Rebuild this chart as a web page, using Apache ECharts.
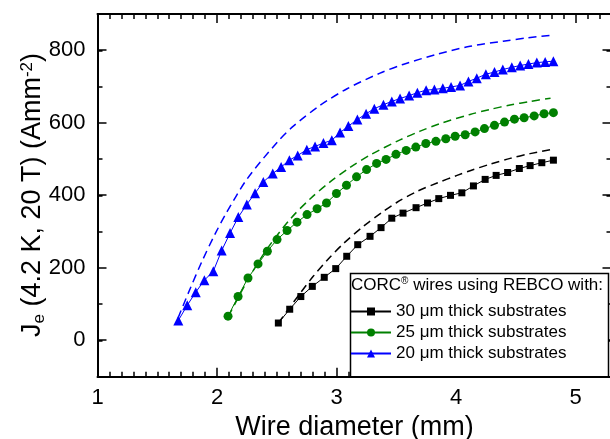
<!DOCTYPE html>
<html><head><meta charset="utf-8">
<script src="https://cdn.jsdelivr.net/npm/echarts@6/dist/echarts.min.js"></script>
<style>html,body{margin:0;padding:0;background:#fff}#c{width:610px;height:439px}</style>
</head><body><div id="c"></div>
<script>
// ---- data ----
const xTicks = [1, 2, 3, 4, 5];
const yTicks = [0, 200, 400, 600, 800];

const blackName = '30 \u03bcm thick substrates';
const greenName = '25 \u03bcm thick substrates';
const blueName  = '20 \u03bcm thick substrates';

const blackX = [2.513,2.608,2.701,2.797,2.897,2.993,3.085,3.177,3.280,3.372,3.462,3.556,3.665,3.761,3.855,3.953,4.048,4.145,4.243,4.335,4.431,4.529,4.619,4.717,4.814];
const blackY = [48,86,121,149,174,198,232,264,287,311,337,351,366,379,391,400,407,426,444,455,463,474,482,490,497];

const greenX = [2.092,2.176,2.259,2.343,2.421,2.502,2.586,2.669,2.753,2.837,2.916,2.999,3.083,3.167,3.251,3.335,3.414,3.497,3.582,3.663,3.747,3.831,3.914,3.992,4.076,4.159,4.237,4.321,4.405,4.488,4.569,4.653,4.736,4.814];
const greenY = [67,121,172,211,246,278,303,326,347,363,379,405,428,451,471,488,499,513,524,533,543,549,556,563,567,575,584,593,602,610,614,619,625,628];

const blueX = [1.676,1.751,1.822,1.894,1.969,2.039,2.109,2.178,2.249,2.318,2.387,2.466,2.536,2.605,2.675,2.751,2.820,2.890,2.960,3.029,3.099,3.174,3.247,3.316,3.392,3.462,3.531,3.607,3.676,3.749,3.818,3.889,3.958,4.033,4.103,4.173,4.249,4.321,4.391,4.466,4.536,4.605,4.675,4.745,4.814];
const blueY = [55,97,133,166,191,248,296,340,375,406,437,460,478,497,510,526,535,544,552,573,591,609,625,639,650,659,667,675,683,690,692,695,699,703,714,723,734,740,747,753,758,762,766,768,770];

// dashed (calculated) curves
const blackFitX = [2.513,2.695,2.803,2.929,3.054,3.222,3.389,3.506,3.674,3.841,4.008,4.117,4.285,4.452,4.619,4.803];
const blackFitY = [48,130,176,224,266,314,355,381,411,434,455,468,486,502,515,527];
const greenFitX = [2.095,2.259,2.418,2.611,2.778,2.946,3.113,3.280,3.531,3.699,3.866,4.117,4.285,4.452,4.619,4.790];
const greenFitY = [66,168,252,334,390,437,477,511,553,577,598,623,637,649,659,668];
const blueFitX = [1.674,1.774,1.874,1.983,2.084,2.251,2.502,2.636,2.862,3.088,3.364,3.556,3.841,4.117,4.393,4.594,4.812];
const blueFitY = [62,142,218,293,355,445,546,590,648,694,737,761,789,811,825,834,842];

const zip = (xs, ys) => xs.map((x, i) => [x, ys[i]]);

const FONT = '"Liberation Sans", Arial, sans-serif';
const BLUE = '#0000ff', GREEN = '#008000', BLACK = '#000000';
const isInt = v => Math.abs(v - Math.round(v)) < 1e-6;

const axisLine = { show: true, onZero: false, lineStyle: { color: '#000', width: 2 } };
const noLine = { show: false, onZero: false };
const minorTick = { show: true, inside: true, length: 5, lineStyle: { color: '#000', width: 1.5 } };
const majorTick = { show: true, inside: true, length: 9, lineStyle: { color: '#000', width: 1.5 } };

function fitSeries(xs, ys, color) {
  return { type: 'line', xAxisIndex: 0, yAxisIndex: 0, data: zip(xs, ys), showSymbol: false, symbol: 'none',
    smooth: 0.3, silent: true, z: 2,
    lineStyle: { color: color, width: 1.5, type: [8, 5] } };
}
function dataSeries(name, xs, ys, color, symbol, size) {
  return { name: name, type: 'line', xAxisIndex: 0, yAxisIndex: 0, data: zip(xs, ys), symbol: symbol, symbolSize: size,
    showSymbol: true, z: 3,
    itemStyle: { color: color, borderWidth: 0 }, lineStyle: { color: color, width: 1 } };
}

const chart = echarts.init(document.getElementById('c'), null, { renderer: 'canvas' });
chart.setOption({
  animation: false,
  backgroundColor: '#fff',
  grid: [
    { left: 97.5, top: 14, width: 514, height: 362.7, outerBoundsMode: 'none', containLabel: false },
    { left: 97.5, top: 50, width: 514, height: 290, outerBoundsMode: 'none', containLabel: false }
  ],
  xAxis: [
    { gridIndex: 0, type: 'value', position: 'bottom', min: 1, max: 5.3, interval: 0.1,
      axisLine: axisLine, axisTick: minorTick, axisLabel: { show: false }, splitLine: { show: false } },
    { gridIndex: 0, type: 'value', position: 'bottom', min: 1, max: 5.3, interval: 1,
      axisLine: noLine, axisTick: majorTick, splitLine: { show: false },
      axisLabel: { show: true, margin: 10, color: '#000', fontSize: 22, fontFamily: FONT,
        formatter: v => (isInt(v) && xTicks.indexOf(Math.round(v)) >= 0) ? String(Math.round(v)) : '' },
      name: 'Wire diameter (mm)', nameLocation: 'middle', nameGap: 34,
      nameTextStyle: { color: '#000', fontSize: 27, fontFamily: FONT } },
    { gridIndex: 0, type: 'value', position: 'top', min: 1, max: 5.3, interval: 0.1,
      axisLine: axisLine, axisTick: minorTick, axisLabel: { show: false }, splitLine: { show: false } },
    { gridIndex: 0, type: 'value', position: 'top', min: 1, max: 5.3, interval: 1,
      axisLine: noLine, axisTick: majorTick, axisLabel: { show: false }, splitLine: { show: false } },
    { gridIndex: 1, type: 'value', min: 1, max: 5.3, show: false }
  ],
  yAxis: [
    { gridIndex: 0, type: 'value', position: 'left', min: -100, max: 900, interval: 100,
      axisLine: axisLine, axisTick: minorTick, axisLabel: { show: false }, splitLine: { show: false } },
    { gridIndex: 0, type: 'value', position: 'right', min: -100, max: 900, interval: 100,
      axisLine: axisLine, axisTick: minorTick, axisLabel: { show: false }, splitLine: { show: false } },
    { gridIndex: 1, type: 'value', position: 'left', min: 0, max: 800, interval: 200,
      axisLine: noLine, axisTick: majorTick, splitLine: { show: false },
      axisLabel: { show: true, margin: 12, color: '#000', fontSize: 22, fontFamily: FONT,
        formatter: v => yTicks.indexOf(v) >= 0 ? String(v) : '' },
      name: 'J{sub|e} (4.2 K, 20 T) (Amm{sup|-2})', nameLocation: 'middle', nameGap: 50, nameMoveOverlap: false,
      nameTextStyle: { color: '#000', fontSize: 27, fontFamily: FONT,
        rich: {
          sub: { fontSize: 17, fontFamily: FONT, color: '#000', verticalAlign: 'bottom', padding: [12, 0, 0, 0] },
          sup: { fontSize: 17, fontFamily: FONT, color: '#000', verticalAlign: 'top', padding: [0, 0, 12, 0] }
        } } },
    { gridIndex: 1, type: 'value', position: 'right', min: 0, max: 800, interval: 200,
      axisLine: noLine, axisTick: majorTick, axisLabel: { show: false }, splitLine: { show: false } }
  ],
  legend: {
    orient: 'vertical', left: 350, top: 303, padding: 0, itemGap: 4,
    itemWidth: 40, itemHeight: 10, selectedMode: false,
    data: [blackName, greenName, blueName],
    textStyle: { color: '#000', fontSize: 17, fontFamily: FONT, lineHeight: 17 }
  },
  graphic: [
    { type: 'rect', z: 1, shape: { x: 350.5, y: 273.5, width: 258, height: 103.2 },
      style: { fill: '#fff', stroke: '#000', lineWidth: 1.5 } },
    { type: 'text', z: 5, left: 351, top: 276,
      style: { text: 'CORC{sup|\u00ae} wires using REBCO with:', fill: '#000', fontSize: 17, fontFamily: FONT,
        rich: { sup: { fontSize: 10, fontFamily: FONT, fill: '#000', verticalAlign: 'top', padding: [0, 0, 8, 0] } } } }
  ],
  series: [
    fitSeries(blackFitX, blackFitY, BLACK),
    fitSeries(greenFitX, greenFitY, GREEN),
    fitSeries(blueFitX, blueFitY, BLUE),
    dataSeries(blackName, blackX, blackY, BLACK, 'rect', 7),
    dataSeries(greenName, greenX, greenY, GREEN, 'circle', 9),
    dataSeries(blueName, blueX, blueY, BLUE, 'triangle', 10)
  ]
});
</script></body></html>
